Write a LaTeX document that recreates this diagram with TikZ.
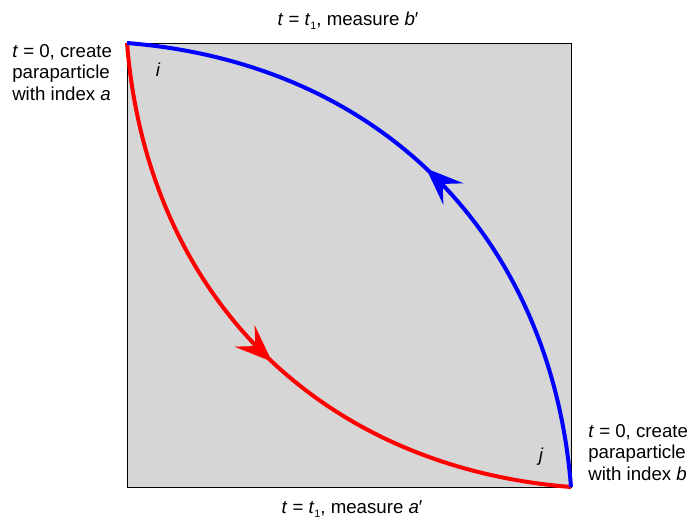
\documentclass[tikz,border=0pt]{standalone}
\usepackage{fontspec}
\setmainfont{Liberation Sans}
\usetikzlibrary{arrows.meta,decorations.markings}
\definecolor{boxgray}{RGB}{214,214,214}
\newcommand{\tsub}[1]{\raisebox{-0.45ex}{\fontsize{8}{8}\selectfont #1}}

\begin{document}
\begin{tikzpicture}[
    x=0.75pt, y=-0.75pt,
    every node/.style={font=\fontsize{14}{16.1}\selectfont},
    lbl/.style={align=left, inner sep=0pt},
    corner/.style={font=\fontsize{14}{16.1}\selectfont\itshape, inner sep=0pt},
    worldline/.style={line width=3pt, postaction={decorate},
      decoration={markings, mark=at position 0.52 with {\arrow{Stealth[length=28pt,width=22pt,inset=11pt]}}}}]
  \useasboundingbox (0,0) rectangle (692,522);
  \coordinate (tl) at (127,43);
  \coordinate (br) at (571,487);
  \draw[fill=boxgray, line width=0.75pt] (tl) rectangle (br);
  \node[corner] (labi) at (158,70) {i};
  \node[corner] (labj) at (541,457) {j};
  % world lines
  \draw[worldline, red] (tl) .. controls (147,295) and (319,467) .. (br);
  \draw[worldline, blue] (br) .. controls (551,235) and (379,63) .. (tl);
  % labels
  \node[lbl, anchor=north west] (createA) at (12,44) {\textit{t} = 0, create\\paraparticle\\with index \textit{a}};
  \node[lbl, anchor=north west] (createB) at (588,424) {\textit{t} = 0, create\\paraparticle\\with index \textit{b}};
  \node[inner sep=0pt, anchor=base] (measureB) at (348,25) {\textit{t} = \textit{t}\tsub{1}, measure \textit{b}′};
  \node[inner sep=0pt, anchor=base] (measureA) at (352,513) {\textit{t} = \textit{t}\tsub{1}, measure \textit{a}′};
\end{tikzpicture}
\end{document}
